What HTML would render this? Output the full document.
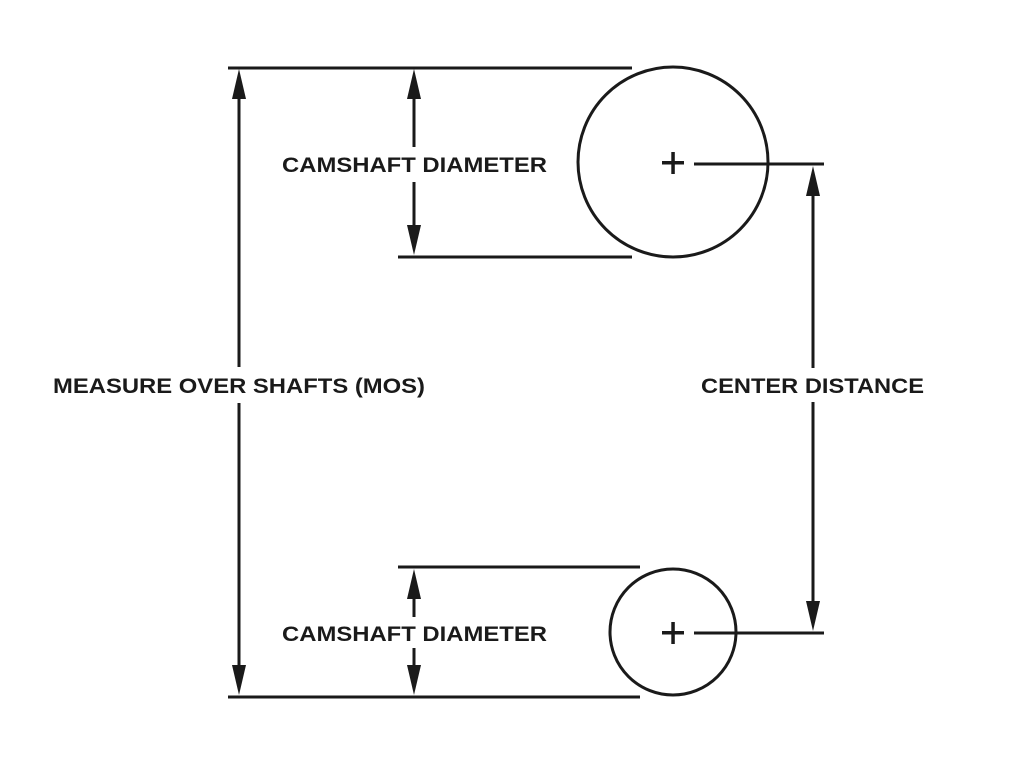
<!DOCTYPE html>
<html><head><meta charset="utf-8"><style>html,body{margin:0;padding:0;background:#fff}svg{display:block}</style></head>
<body>
<svg width="1024" height="769" viewBox="0 0 1024 769" xmlns="http://www.w3.org/2000/svg">
<g stroke="#1a1a1a" stroke-width="3" fill="none">
<line x1="228" y1="68" x2="632" y2="68"/>
<line x1="398" y1="257" x2="632" y2="257"/>
<circle cx="673" cy="162" r="95"/>
<line x1="694" y1="164" x2="824" y2="164"/>
<line x1="398" y1="567" x2="640" y2="567"/>
<line x1="228" y1="697" x2="640" y2="697"/>
<circle cx="673" cy="632" r="63"/>
<line x1="694" y1="633" x2="824" y2="633"/>
<line x1="239" y1="95" x2="239" y2="367"/>
<line x1="239" y1="403" x2="239" y2="668"/>
<line x1="414" y1="95" x2="414" y2="147"/>
<line x1="414" y1="182" x2="414" y2="228"/>
<line x1="414" y1="595" x2="414" y2="617"/>
<line x1="414" y1="648" x2="414" y2="668"/>
<line x1="813" y1="192" x2="813" y2="368"/>
<line x1="813" y1="402" x2="813" y2="603"/>
</g>
<g fill="#1a1a1a">
<polygon points="239,69 232,99 246,99"/>
<polygon points="239,695 232,665 246,665"/>
<polygon points="414,69 407,99 421,99"/>
<polygon points="414,255 407,225 421,225"/>
<polygon points="414,569 407,599 421,599"/>
<polygon points="414,695 407,665 421,665"/>
<polygon points="813,166 806,196 820,196"/>
<polygon points="813,631 806,601 820,601"/>
<rect x="662" y="161" width="22" height="3.5"/>
<rect x="671.3" y="152" width="3.5" height="22"/>
<rect x="662" y="631" width="22" height="3.5"/>
<rect x="671.3" y="622" width="3.5" height="22"/>
</g>
<g font-family="Liberation Sans, Arial, sans-serif" font-weight="bold" font-size="21" fill="#1a1a1a">
<text x="282" y="172" textLength="265" lengthAdjust="spacingAndGlyphs">CAMSHAFT DIAMETER</text>
<text x="282" y="641" textLength="265" lengthAdjust="spacingAndGlyphs">CAMSHAFT DIAMETER</text>
<text x="53" y="393" textLength="372" lengthAdjust="spacingAndGlyphs">MEASURE OVER SHAFTS (MOS)</text>
<text x="701" y="393" textLength="223" lengthAdjust="spacingAndGlyphs">CENTER DISTANCE</text>
</g>
</svg>
</body></html>
